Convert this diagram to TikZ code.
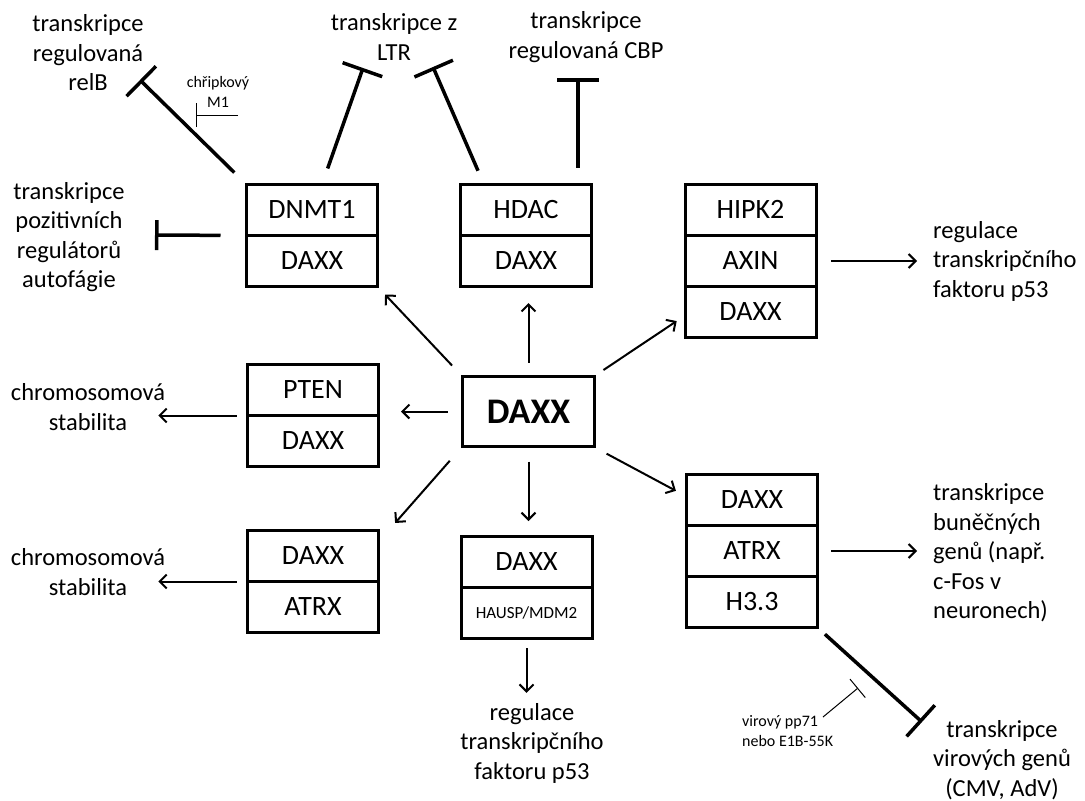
\documentclass[tikz,border=0pt]{standalone}
\usepackage{fontspec}
\setmainfont{Carlito}
\usetikzlibrary{arrows.meta,positioning,calc}

\newcommand{\lblfont}{\fontsize{24.5}{29.5}\selectfont}
\newcommand{\boxfont}{\fontsize{28}{32}\selectfont}
\newcommand{\notefont}{\fontsize{16}{20}\selectfont}

\begin{document}
\begin{tikzpicture}[
    x=1pt, y=-1pt,
    cell/.style={draw, line width=3pt, minimum width=131pt, minimum height=51pt,
      inner sep=0pt, outer sep=0pt, text height=18pt, text depth=1pt, font=\boxfont},
    lbl/.style={align=center, font=\lblfont, inner sep=0pt},
    note/.style={align=center, font=\notefont, inner sep=0pt},
    arr/.style={-{Straight Barb[length=7pt,width=14pt]}, line width=2pt},
    inhib/.style={-{Bar[width=42pt]}, line width=3.5pt},
    weak/.style={-{Bar[width=24pt]}, line width=1pt}
  ]
    \useasboundingbox (0,0) rectangle (1085,801);

    % DAXX in the middle
    \node[draw, line width=3pt, minimum width=132pt, minimum height=70pt,
      font=\fontsize{36}{40}\selectfont\bfseries] (daxx) at (528.5,411.5) {DAXX};

    % complexes, one cell per partner
    \node[cell] (dnmtA) at (312,210) {DNMT1};
    \node[cell, below=0pt of dnmtA] (dnmtB) {DAXX};
    \node[cell] (hdacA) at (526,210) {HDAC};
    \node[cell, below=0pt of hdacA] (hdacB) {DAXX};
    \node[cell] (hipkA) at (750.5,210) {HIPK2};
    \node[cell, below=0pt of hipkA] (hipkB) {AXIN};
    \node[cell, below=0pt of hipkB] (hipkC) {DAXX};
    \node[cell] (ptenA) at (313,390) {PTEN};
    \node[cell, below=0pt of ptenA] (ptenB) {DAXX};
    \node[cell] (atrxA) at (313,556) {DAXX};
    \node[cell, below=0pt of atrxA] (atrxB) {ATRX};
    \node[cell] (hauspA) at (526.5,562) {DAXX};
    \node[cell, below=0pt of hauspA, font=\fontsize{17}{20}\selectfont,
      text height=11pt, text depth=0pt] (hauspB) {HAUSP/MDM2};
    \node[cell] (hthreeA) at (752,500) {DAXX};
    \node[cell, below=0pt of hthreeA] (hthreeB) {ATRX};
    \node[cell, below=0pt of hthreeB] (hthreeC) {H3.3};

    % outcomes
    \node[lbl] (relb) at (88,53) {transkripce\\regulovaná\\relB};
    \node[lbl] (ltr) at (394,37) {transkripce z\\LTR};
    \node[lbl] (cbp) at (586,37) {transkripce\\regulovaná CBP};
    \node[lbl] (autof) at (69,237) {transkripce\\pozitivních\\regulátorů\\autofágie};
    \node[lbl] (stabA) at (88,407) {chromosomová\\stabilita};
    \node[lbl] (stabB) at (88,572) {chromosomová\\stabilita};
    \node[lbl, align=left, anchor=west] (p53r) at (933,261) {regulace\\transkripčního\\faktoru p53};
    \node[lbl, align=left, anchor=west] (genes) at (933,553) {transkripce\\buněčných\\genů (např.\\c-Fos v\\neuronech)};
    \node[lbl] (p53b) at (532,743) {regulace\\transkripčního\\faktoru p53};
    \node[lbl] (viral) at (1002,760) {transkripce\\virových genů\\(CMV, AdV)};
    \node[note] (flu) at (218,92) {chřipkový\\M1};
    \node[note, align=left, anchor=west] (pp71) at (742,731) {virový pp71\\nebo E1B-55K};

    % ends of the inhibition bars
    \coordinate (relbT) at (140,80);
    \coordinate (ltrT1) at (363,68);
    \coordinate (ltrT2) at (433,67);
    \coordinate (cbpT) at (578,78);
    \coordinate (autofT) at (155,235);
    \coordinate (viralT) at (922,722);
    \coordinate (fluS) at (238,115);
    \coordinate (fluT) at (196,115);
    \coordinate (ppS) at (823,717);
    \coordinate (ppT) at (858,688);

    % DAXX -> complexes
    \draw[arr, shorten <=13pt, shorten >=11pt] (daxx.north west) -- (dnmtB.south east);
    \draw[arr, shorten <=12.5pt, shorten >=16.5pt] (daxx.north) -- (daxx.north |- hdacB.south);
    \draw[arr, shorten <=9pt, shorten >=10pt] (daxx.north east) -- ($(hipkC.south west)+(0,-22)$);
    \draw[arr, shorten <=13.5pt, shorten >=22.5pt] (daxx.west) -- (daxx.west -| ptenA.east);
    \draw[arr, shorten <=17pt, shorten >=10pt] (daxx.south west) -- ($(atrxA.north east)+(10,0)$);
    \draw[arr, shorten <=13.5pt, shorten >=15.5pt] (daxx.south) -- (daxx.south |- hauspA.north);
    \draw[arr, shorten <=12pt, shorten >=12pt] (daxx.south east) -- ($(hthreeA.north west)+(0,22)$);

    % complexes -> outcomes
    \draw[arr, shorten <=15pt, shorten >=16pt] (hipkB.east) -- (p53r.west |- hipkB.east);
    \draw[arr, shorten <=13.5pt, shorten >=16pt] (hthreeB.east) -- (genes.west |- hthreeB.east);
    \draw[arr, shorten <=11pt, shorten >=-7pt] (ptenA.south west) -- (ptenA.south west -| stabA.east);
    \draw[arr, shorten <=11pt, shorten >=-7pt] (atrxA.south west) -- (atrxA.south west -| stabB.east);
    \draw[arr, shorten <=9.5pt, shorten >=10pt] (hauspB.south) -- (hauspB.south |- p53b.north);

    % inhibition
    \draw[inhib, shorten <=17pt] (dnmtA.north west) -- (relbT);
    \draw[inhib, shorten <=17pt] ($(dnmtA.north)+(10,0)$) -- (ltrT1);
    \draw[inhib, shorten <=15pt] ($(hdacA.north)+(-42,0)$) -- (ltrT2);
    \draw[inhib, shorten <=17pt] ($(hdacA.north)+(52,0)$) -- (cbpT);
    \draw[inhib, -{Bar[width=30pt]}, shorten <=26pt] (dnmtA.south west) -- (autofT);
    \draw[inhib, shorten <=10pt] (hthreeC.south east) -- (viralT);
    \draw[weak] (fluS) -- (fluT);
    \draw[weak] (ppS) -- (ppT);
\end{tikzpicture}
\end{document}
